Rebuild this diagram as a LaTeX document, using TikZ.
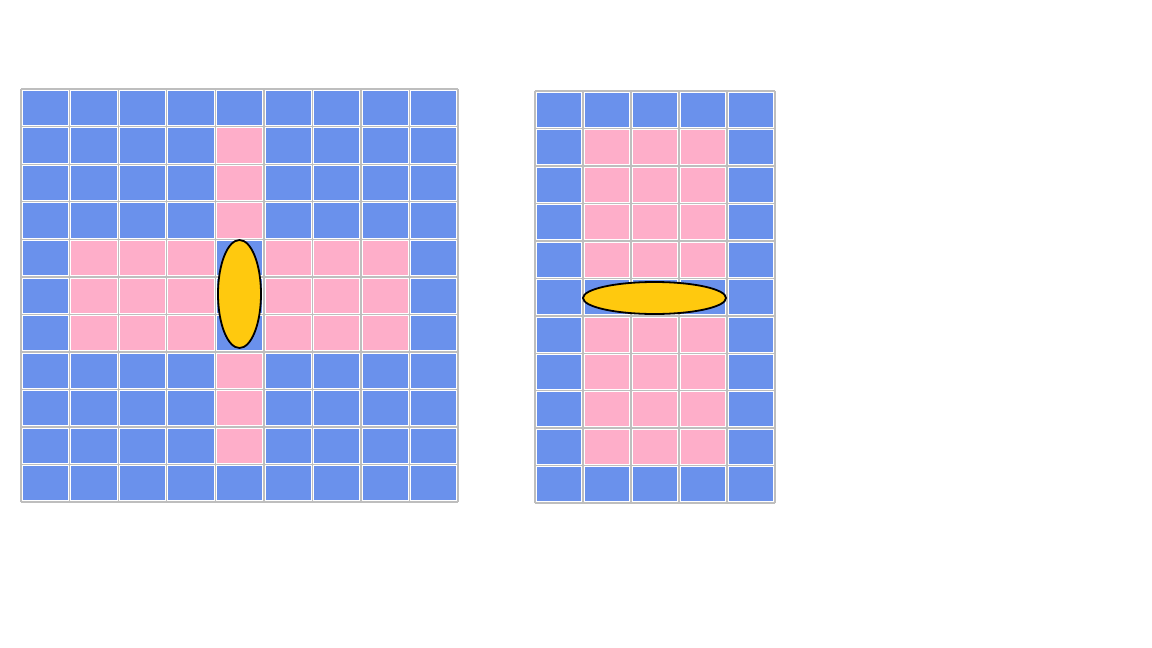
\documentclass[tikz,border=0pt]{standalone}
\usetikzlibrary{shapes.geometric}
\definecolor{cellblue}{RGB}{106,145,236}
\definecolor{cellpink}{RGB}{254,174,201}
\definecolor{gold}{RGB}{255,201,14}
\definecolor{gridgray}{RGB}{190,190,190}
\tikzset{
  bluecell/.style={fill=cellblue,draw=white,line width=0.8pt},
  pinkcell/.style={fill=cellpink,draw=white,line width=0.8pt},
  gridline/.style={draw=gridgray,line width=1.6pt},
  spot/.style={ellipse,fill=gold,draw=black,line width=1.8pt,inner sep=0pt}
}
\begin{document}
\begin{tikzpicture}[x=1pt,y=-1pt]
\useasboundingbox (0,0) rectangle (1152,648);
\fill[white] (0,0) rectangle (1152,648);
% ---------- left grid: 9 x 11 ----------
\def\LX{21}\def\LY{89}\def\LW{48.56}\def\LH{37.55}
\foreach \c in {0,...,9} {
  \draw[gridline] ({\LX+\c*\LW},\LY) -- ({\LX+\c*\LW},{\LY+11*\LH});
}
\foreach \r in {0,...,11} {
  \draw[gridline] (\LX,{\LY+\r*\LH}) -- ({\LX+9*\LW},{\LY+\r*\LH});
}
\foreach \c in {0,...,8} {
  \foreach \r in {0,...,10} {
    \pgfmathtruncatemacro{\ispink}{
      ((\c==4) && (\r>=1) && (\r<=9) && (\r<4 || \r>6)) ||
      ((\r>=4) && (\r<=6) && (\c>=1) && (\c<=7) && (\c!=4)) ? 1 : 0}
    \ifnum\ispink=1
      \path[pinkcell] ({\LX+\c*\LW+1.2},{\LY+\r*\LH+1.2}) rectangle ({\LX+(\c+1)*\LW-1.2},{\LY+(\r+1)*\LH-1.2});
    \else
      \path[bluecell] ({\LX+\c*\LW+1.2},{\LY+\r*\LH+1.2}) rectangle ({\LX+(\c+1)*\LW-1.2},{\LY+(\r+1)*\LH-1.2});
    \fi
  }
}
\node[spot,minimum width=43pt,minimum height=108pt] (leftspot) at (239.5,294) {};
% ---------- right grid: 5 x 11 ----------
\def\RX{535}\def\RY{91}\def\RW{48}\def\RH{37.45}
\foreach \c in {0,...,5} {
  \draw[gridline] ({\RX+\c*\RW},\RY) -- ({\RX+\c*\RW},{\RY+11*\RH});
}
\foreach \r in {0,...,11} {
  \draw[gridline] (\RX,{\RY+\r*\RH}) -- ({\RX+5*\RW},{\RY+\r*\RH});
}
\foreach \c in {0,...,4} {
  \foreach \r in {0,...,10} {
    \pgfmathtruncatemacro{\ispink}{
      ((\c>=1) && (\c<=3) && (\r>=1) && (\r<=9) && (\r!=5)) ? 1 : 0}
    \ifnum\ispink=1
      \path[pinkcell] ({\RX+\c*\RW+1.2},{\RY+\r*\RH+1.2}) rectangle ({\RX+(\c+1)*\RW-1.2},{\RY+(\r+1)*\RH-1.2});
    \else
      \path[bluecell] ({\RX+\c*\RW+1.2},{\RY+\r*\RH+1.2}) rectangle ({\RX+(\c+1)*\RW-1.2},{\RY+(\r+1)*\RH-1.2});
    \fi
  }
}
\node[spot,minimum width=143pt,minimum height=32pt] (rightspot) at (654.5,298) {};
\end{tikzpicture}
\end{document}
